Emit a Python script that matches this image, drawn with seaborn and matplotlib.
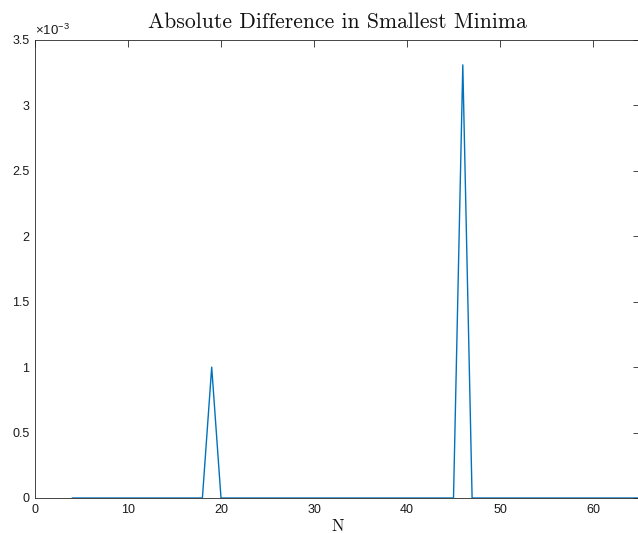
import numpy as np
import pandas as pd
import matplotlib
matplotlib.use("Agg")
import matplotlib.pyplot as plt
import seaborn as sns
from matplotlib.ticker import FuncFormatter

# Number of points N and the absolute difference between the smallest minima
n_values = list(range(4, 66))
spikes = {19: 1.0e-3, 46: 3.31e-3}
abs_diff = [spikes.get(n, 0.0) for n in n_values]

x_ticks = [0, 10, 20, 30, 40, 50, 60]
y_ticks = [0, 0.5e-3, 1.0e-3, 1.5e-3, 2.0e-3, 2.5e-3, 3.0e-3, 3.5e-3]

df = pd.DataFrame({"N": n_values, "diff": abs_diff})

sns.set_theme(style="white")
plt.rcParams["font.family"] = ["Liberation Sans", "DejaVu Sans"]
plt.rcParams["mathtext.fontset"] = "custom"
plt.rcParams["mathtext.rm"] = "Liberation Sans"
plt.rcParams["mathtext.it"] = "Liberation Sans:italic"

fig = plt.figure(figsize=(6.38, 5.33), dpi=100)
ax = fig.add_axes([35 / 638, 1 - 498 / 533, 604.5 / 638, 458 / 533])

sns.lineplot(data=df, x="N", y="diff", ax=ax, color="#0072BD", linewidth=1.0)

ax.set_xlim(0, 65)
ax.set_ylim(0, 3.5e-3)
ax.set_xticks(x_ticks)
ax.set_yticks(y_ticks)
ax.yaxis.set_major_formatter(FuncFormatter(lambda v, p: f"{v * 1e3:g}"))
ax.xaxis.set_major_formatter(FuncFormatter(lambda v, p: f"{v:g}"))

ax.tick_params(direction="in", length=5, width=0.6, colors="#262626",
               labelcolor="#1a1a1a", labelsize=9, top=True, right=True, pad=4)
for s in ax.spines.values():
    s.set_color("#262626")
    s.set_linewidth(0.6)

ax.text(0.0, 1.004, r"$\mathregular{\times10^{-3}}$", transform=ax.transAxes,
        fontsize=9.5, ha="left", va="bottom", color="#1a1a1a")

ax.set_xlabel("N", family="cmr10", fontsize=12, labelpad=2, color="#111111")
ax.set_ylabel("")
ax.set_title("Absolute Difference in Smallest Minima", family="cmr10",
             fontsize=15.6, pad=9, color="#111111")

fig.savefig("out.png", dpi=100)
